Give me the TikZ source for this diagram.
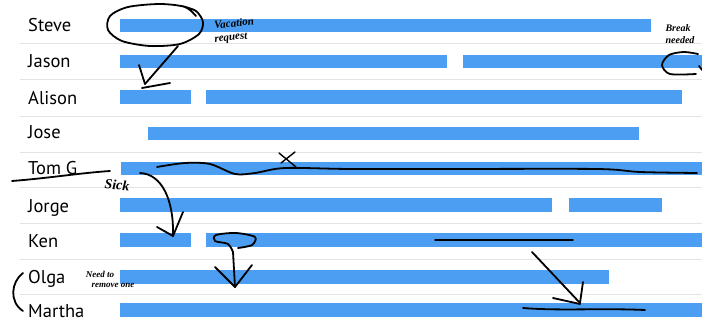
\documentclass[tikz,border=0pt]{standalone}
\usepackage{fontspec}
\setmainfont{PT Sans}
\newfontfamily\handfont{Liberation Serif}
\definecolor{barblue}{HTML}{4C9EF2}
\definecolor{sepgray}{HTML}{E4E4E4}
\begin{document}
\begin{tikzpicture}[x=1pt,y=-1pt,
  barbox/.style={fill=barblue,draw=none},
  sepline/.style={draw=sepgray,line width=0.8pt},
  personname/.style={anchor=base west,inner sep=0pt,font=\fontsize{18.5}{18.5}\selectfont},
  inkline/.style={draw=black,line width=1.8pt,line cap=round,line join=round},
  handtext/.style={inner sep=0pt,font=\handfont\itshape\bfseries\fontsize{11}{11}\selectfont}]
\useasboundingbox (0,0) rectangle (702,321);
\fill[white] (0,0) rectangle (702,321);
% separators
\foreach \y in {43,79,116,152,187,223,259,294}
  \draw[sepline] (20,\y) -- (702,\y);
% bars
\fill[barbox] (120,19) rectangle (651,32);
\fill[barbox] (120,55) rectangle (447,68);
\fill[barbox] (463,55) rectangle (702,68);
\fill[barbox] (120,90) rectangle (191,104);
\fill[barbox] (206,90) rectangle (682,104);
\fill[barbox] (148,127) rectangle (639,140);
\fill[barbox] (121,162) rectangle (702,175);
\fill[barbox] (120,198) rectangle (552,212);
\fill[barbox] (569,198) rectangle (662,212);
\fill[barbox] (120,233) rectangle (191,247);
\fill[barbox] (206,233) rectangle (702,247);
\fill[barbox] (120,270) rectangle (609,284);
\fill[barbox] (120,303) rectangle (702,317);
% names
\node[personname] (steve) at (28,32) {Steve};
\node[personname] (jason) at (28,68) {Jason};
\node[personname] (alison) at (28,104) {Alison};
\node[personname] (jose) at (28,139) {Jose};
\node[personname] (tom) at (28,174) {Tom G};
\node[personname] (jorge) at (28,212) {Jorge};
\node[personname] (ken) at (28,247) {Ken};
\node[personname] (olga) at (28,283) {Olga};
\node[personname] (martha) at (28,317) {Martha};
% handwritten notes
\node[handtext,rotate=6] (vac) at (234,23) {Vacation};
\node[handtext,rotate=6] (req) at (231,38.5) {request};
\node[handtext,font=\handfont\itshape\bfseries\fontsize{10}{10}\selectfont] (brk) at (678,28) {Break};
\node[handtext,font=\handfont\itshape\bfseries\fontsize{10}{10}\selectfont] (ndd) at (680,40) {needed};
\node[handtext,font=\handfont\itshape\bfseries\fontsize{14}{14}\selectfont,rotate=-4] (sick) at (117,185) {Sick};
\node[handtext,font=\handfont\itshape\bfseries\fontsize{9}{9}\selectfont] (need) at (100,274) {Need to};
\node[handtext,font=\handfont\itshape\bfseries\fontsize{9}{9}\selectfont] (rem) at (113,285) {remove one};
% Steve ellipse and arrow
\draw[inkline] plot[smooth] coordinates {(196,16) (185,7) (160,4) (128,7) (110,16) (108,30) (122,41) (150,46) (180,44) (199,34) (203,22) (196,11) (182,6)};
\coordinate (sa1) at (178,46);
\coordinate (sa2) at (145,84);
\draw[inkline] (sa1) -- (sa2);
\draw[inkline] (139,65) -- (sa2);
\draw[inkline] (142,88) -- (170,83);
% Jason break mark
\draw[inkline] plot[smooth] coordinates {(698,54) (684,52) (669,55) (662,65) (670,74) (696,74)};
\draw[inkline] (699,66) -- (702,70);
% Tom G strike and sick line
\draw[inkline] (12,181) .. controls (50,178) and (80,173) .. (110,171);
\draw[inkline] plot[smooth] coordinates {(157,167) (185,163) (210,164) (235,174) (255,173) (285,168) (350,169) (450,169) (597,169) (640,172) (697,173)};
\draw[inkline,line width=1.4pt] (279,153) -- (296,167);
\draw[inkline,line width=1.4pt] (295,152) -- (281,163);
% Tom G arrow to Ken
\coordinate (ta1) at (140,173);
\coordinate (ta2) at (173,236);
\draw[inkline] (ta1) .. controls (162,174) and (174,200) .. (ta2);
\draw[inkline] (157,227) -- (ta2) -- (183,212);
% Ken loop arrow
\draw[inkline] plot[smooth] coordinates {(233,252) (228,244) (215,241) (216,235) (236,233) (255,237) (252,245) (238,248)};
\coordinate (ka1) at (233,252);
\coordinate (ka2) at (235,287);
\draw[inkline] (ka1) -- (ka2);
\draw[inkline] (215,267) -- (ka2) -- (252,265);
% Ken line and arrow to Martha
\draw[inkline] (435,240) -- (573,240);
\coordinate (ma1) at (532,252);
\coordinate (ma2) at (580,303);
\draw[inkline] (ma1) -- (ma2);
\draw[inkline] (583,282) -- (ma2);
\draw[inkline] (553,298) -- (580,304);
\draw[inkline] (523,308) .. controls (560,311) and (600,308) .. (645,310);
% bracket Olga/Martha
\draw[inkline] (23,273) .. controls (11,282) and (9,302) .. (23,311);
\end{tikzpicture}
\end{document}
